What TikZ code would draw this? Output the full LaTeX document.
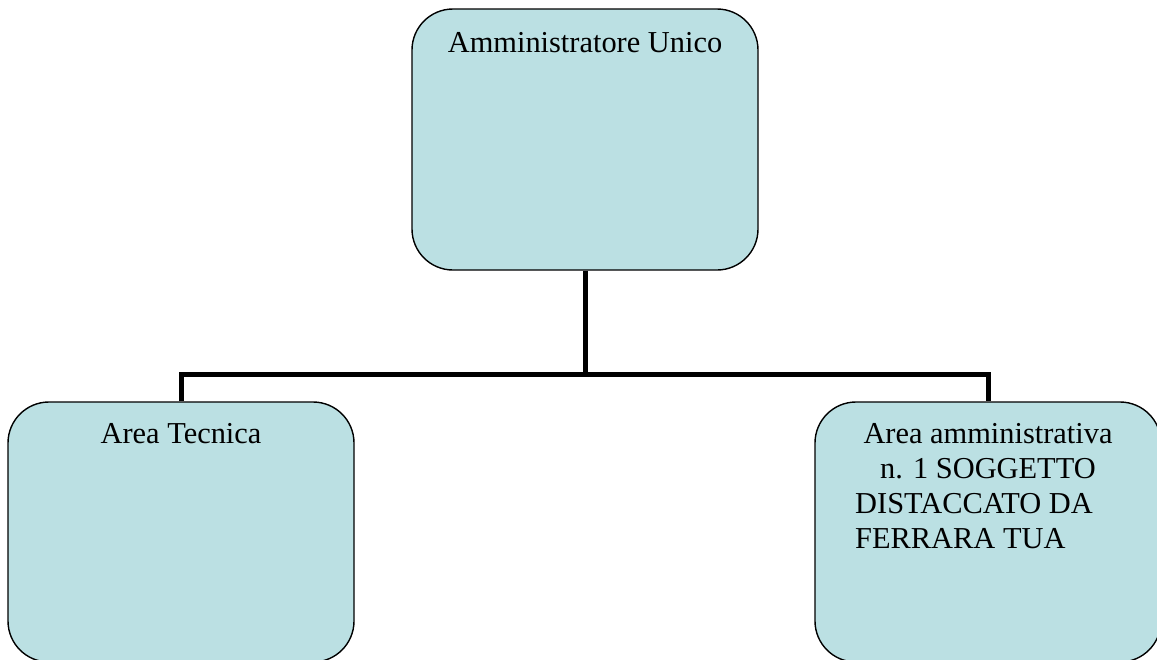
\documentclass[tikz,border=0pt]{standalone}
\usepackage{fontspec}
\setmainfont{Liberation Serif}
\definecolor{boxfill}{HTML}{BBE0E3}
\begin{document}
\begin{tikzpicture}[x=1pt,y=-1pt,
  box/.style={draw=black, line width=1.4pt, fill=boxfill, rounded corners=41pt,
    minimum width=346pt, minimum height=260pt, inner sep=0pt},
  lbl/.style={anchor=base, inner sep=0pt, font=\fontsize{30.4}{35}\selectfont},
  conn/.style={draw=black, line width=5pt, line join=miter}]
\useasboundingbox (0,0) rectangle (1157,659);
\node[box, minimum height=261pt] (top) at (585,139.5) {};
\node[box] (left) at (181,532) {};
\node[box] (right) at (988,532) {};
\coordinate (bus) at (585,374);
\draw[conn] (top.south) -- (bus);
\draw[conn] (left.north) -- (left.north |- bus) -- (right.north |- bus) -- (right.north);
\node[lbl] (t1) at (585,52) {Amministratore Unico};
\node[lbl] (l1) at (181,443) {Area Tecnica};
\node[lbl] (r1) at (988,443) {Area amministrativa};
\node[lbl] (r2) at (988,478) {n. 1 SOGGETTO};
\node[lbl, anchor=base west] (r3) at (855,513) {DISTACCATO DA};
\node[lbl, anchor=base west] (r4) at (855,548) {FERRARA TUA};
\end{tikzpicture}
\end{document}
